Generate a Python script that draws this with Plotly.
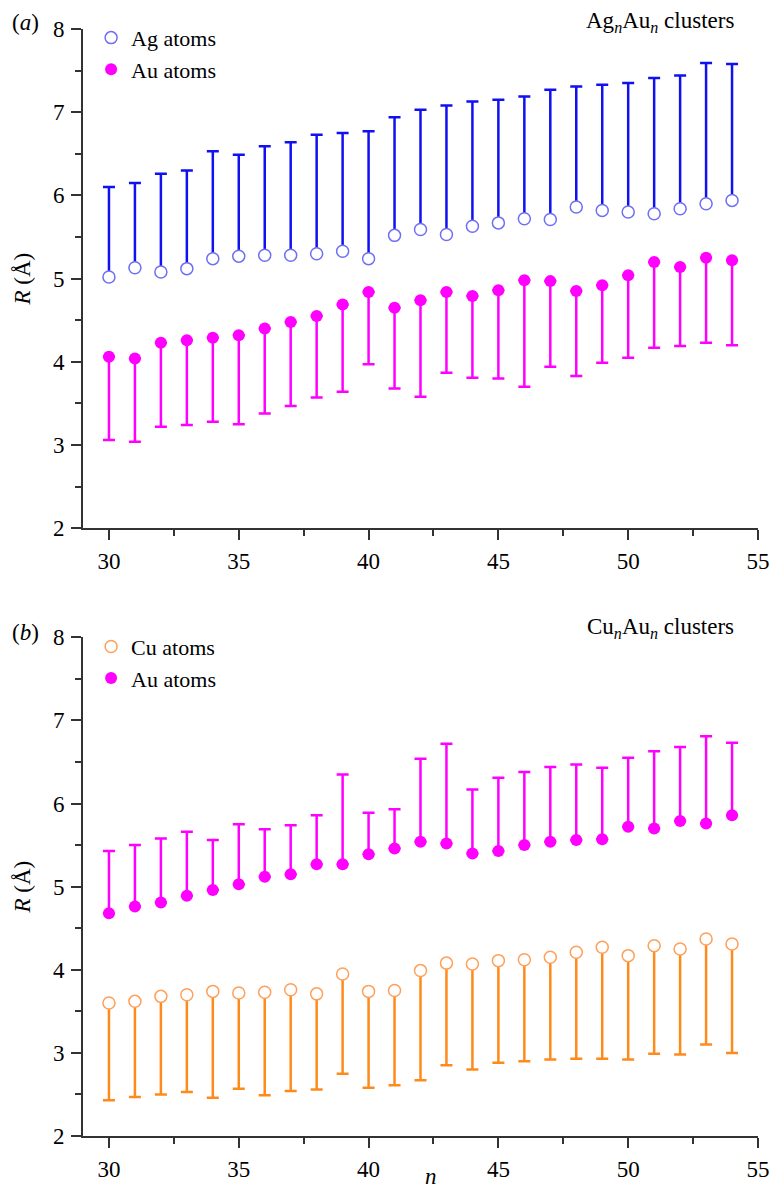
import plotly.graph_objects as go
import numpy as np

n = list(range(30, 55))

# Panel (a): Ag_nAu_n clusters
ag_r = [5.02, 5.13, 5.08, 5.12, 5.24, 5.27, 5.28, 5.28, 5.30, 5.33, 5.24, 5.52, 5.59, 5.53,
        5.63, 5.67, 5.72, 5.71, 5.86, 5.82, 5.80, 5.78, 5.84, 5.90, 5.94]
ag_max = [6.10, 6.15, 6.26, 6.30, 6.53, 6.49, 6.59, 6.64, 6.73, 6.75, 6.77, 6.94, 7.03, 7.08,
          7.13, 7.15, 7.19, 7.27, 7.31, 7.33, 7.35, 7.41, 7.44, 7.59, 7.58]
au_a_r = [4.06, 4.04, 4.23, 4.26, 4.29, 4.32, 4.40, 4.48, 4.55, 4.69, 4.84, 4.65, 4.74, 4.84,
          4.79, 4.86, 4.98, 4.97, 4.85, 4.92, 5.04, 5.20, 5.14, 5.25, 5.22]
au_a_min = [3.06, 3.04, 3.22, 3.24, 3.28, 3.25, 3.38, 3.47, 3.57, 3.64, 3.97, 3.68, 3.58, 3.87,
            3.81, 3.80, 3.70, 3.94, 3.83, 3.99, 4.05, 4.17, 4.19, 4.23, 4.20]

# Panel (b): Cu_nAu_n clusters
au_b_r = [4.68, 4.76, 4.81, 4.89, 4.96, 5.03, 5.12, 5.15, 5.27, 5.27, 5.39, 5.46, 5.54, 5.52,
          5.40, 5.43, 5.50, 5.54, 5.56, 5.57, 5.72, 5.70, 5.79, 5.76, 5.86]
au_b_max = [5.43, 5.50, 5.58, 5.66, 5.56, 5.75, 5.69, 5.74, 5.86, 6.35, 5.89, 5.93, 6.54, 6.72,
            6.17, 6.31, 6.38, 6.44, 6.47, 6.43, 6.55, 6.63, 6.68, 6.81, 6.73]
cu_r = [3.60, 3.62, 3.68, 3.70, 3.74, 3.72, 3.73, 3.76, 3.71, 3.95, 3.74, 3.75, 3.99, 4.08,
        4.07, 4.11, 4.12, 4.15, 4.21, 4.27, 4.17, 4.29, 4.25, 4.37, 4.31]
cu_min = [2.43, 2.47, 2.50, 2.53, 2.46, 2.57, 2.49, 2.54, 2.56, 2.75, 2.58, 2.61, 2.67, 2.85,
          2.80, 2.88, 2.90, 2.92, 2.93, 2.93, 2.92, 2.99, 2.98, 3.10, 3.00]

FONT = "Liberation Serif"
BLUE_BAR = "#1010f0"
BLUE_MK = "#6f6ff5"
MAG = "#ff00ff"
OR_BAR = "#ff8a1c"
OR_MK = "#ffa05a"

zeros = [0] * len(n)


def up_err(center, top, color):
    return dict(type="data", symmetric=False,
                array=list(np.array(top) - np.array(center)), arrayminus=zeros,
                color=color, thickness=2.5, width=6)


def down_err(center, bottom, color):
    return dict(type="data", symmetric=False,
                array=zeros, arrayminus=list(np.array(center) - np.array(bottom)),
                color=color, thickness=2.5, width=6)


fig = go.Figure()

fig.add_trace(go.Scatter(x=n, y=ag_r, mode="markers", name="Ag atoms",
                         marker=dict(symbol="circle", size=12, color="white",
                                     line=dict(color=BLUE_MK, width=1.5)),
                         error_y=up_err(ag_r, ag_max, BLUE_BAR),
                         xaxis="x", yaxis="y", legend="legend"))
fig.add_trace(go.Scatter(x=n, y=au_a_r, mode="markers", name="Au atoms",
                         marker=dict(symbol="circle", size=12, color=MAG,
                                     line=dict(color=MAG, width=0)),
                         error_y=down_err(au_a_r, au_a_min, MAG),
                         xaxis="x", yaxis="y", legend="legend"))

fig.add_trace(go.Scatter(x=n, y=cu_r, mode="markers", name="Cu atoms",
                         marker=dict(symbol="circle", size=12, color="white",
                                     line=dict(color=OR_MK, width=1.5)),
                         error_y=down_err(cu_r, cu_min, OR_BAR),
                         xaxis="x2", yaxis="y2", legend="legend2"))
fig.add_trace(go.Scatter(x=n, y=au_b_r, mode="markers", name="Au atoms",
                         marker=dict(symbol="circle", size=12, color=MAG,
                                     line=dict(color=MAG, width=0)),
                         error_y=up_err(au_b_r, au_b_max, MAG),
                         xaxis="x2", yaxis="y2", legend="legend2"))

AX_COL = "#333333"
TXT = dict(family=FONT, size=23, color="black")
xcommon = dict(range=[29, 55], tick0=30, dtick=5, showline=True, linecolor=AX_COL, linewidth=2,
               ticks="outside", ticklen=10, tickwidth=2, tickcolor=AX_COL,
               showgrid=False, zeroline=False, ticklabelstandoff=1, automargin=False,
               tickfont=TXT,
               minor=dict(dtick=2.5, tick0=30, ticks="outside", ticklen=6, tickwidth=2,
                          tickcolor=AX_COL, showgrid=False))
ycommon = dict(range=[2, 8], tick0=2, dtick=1, showline=True, linecolor=AX_COL, linewidth=2,
               ticks="outside", ticklen=10, tickwidth=2, tickcolor=AX_COL,
               showgrid=False, zeroline=False, ticklabelstandoff=2, automargin=False,
               tickfont=TXT,
               minor=dict(dtick=0.5, tick0=2, ticks="outside", ticklen=6, tickwidth=2,
                          tickcolor=AX_COL, showgrid=False),
               title=dict(text="<i>R</i> (Å)", font=TXT, standoff=16))

fig.update_layout(
    width=770, height=1192,
    margin=dict(l=83, r=12, t=29, b=56),
    font=dict(family=FONT, size=23, color="black"),
    plot_bgcolor="white", paper_bgcolor="white",
    xaxis=dict(domain=[0, 1], anchor="y", **xcommon),
    yaxis=dict(domain=[0.549, 1], anchor="x", **ycommon),
    xaxis2=dict(domain=[0, 1], anchor="y2", **xcommon),
    yaxis2=dict(domain=[0, 0.4505], anchor="x2", **ycommon),
    legend=dict(x=0.012, y=1.011, xanchor="left", yanchor="top",
                font=dict(family=FONT, size=22, color="black"),
                bgcolor="rgba(0,0,0,0)", tracegroupgap=0, itemwidth=30),
    legend2=dict(x=0.012, y=0.461, xanchor="left", yanchor="top",
                 font=dict(family=FONT, size=22, color="black"),
                 bgcolor="rgba(0,0,0,0)", tracegroupgap=0, itemwidth=30),
    annotations=[
        dict(text="(<i>a</i>)", x=-0.108, y=1.006, xref="paper", yref="paper",
             xanchor="left", yanchor="middle", showarrow=False, font=TXT),
        dict(text="Ag<sub><i>n</i></sub>Au<sub><i>n</i></sub> clusters", x=0.967, y=1.006,
             xref="paper", yref="paper", xanchor="right", yanchor="middle", showarrow=False,
             font=TXT),
        dict(text="(<i>b</i>)", x=-0.108, y=0.455, xref="paper", yref="paper",
             xanchor="left", yanchor="middle", showarrow=False, font=TXT),
        dict(text="Cu<sub><i>n</i></sub>Au<sub><i>n</i></sub> clusters", x=0.967, y=0.459,
             xref="paper", yref="paper", xanchor="right", yanchor="middle", showarrow=False,
             font=TXT),
        dict(text="<i>n</i>", x=0.515, y=-0.037, xref="paper", yref="paper",
             xanchor="center", yanchor="middle", showarrow=False, font=TXT),
    ],
)

fig.write_html("out.html")
